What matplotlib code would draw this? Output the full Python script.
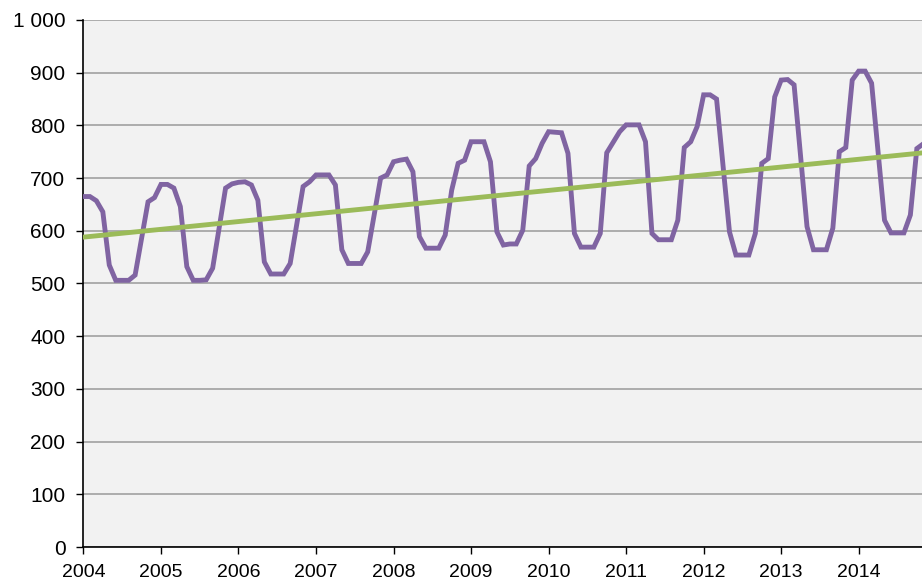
import numpy as np
import matplotlib
matplotlib.use("Agg")
import matplotlib.pyplot as plt
from matplotlib.ticker import FuncFormatter

# monthly values, Jan 2004 .. Nov 2014
v2004 = [665, 665, 657, 636, 535, 506, 506, 506, 516, 585, 655, 663]
v2005 = [688, 688, 681, 646, 532, 506, 506, 507, 529, 605, 681, 689]
v2006 = [692, 693, 687, 658, 541, 518, 518, 518, 538, 611, 684, 693]
v2007 = [706, 706, 706, 687, 564, 538, 538, 538, 560, 630, 700, 706]
v2008 = [731, 734, 736, 712, 589, 567, 567, 567, 592, 677, 728, 734]
v2009 = [769, 769, 769, 731, 598, 573, 575, 575, 601, 723, 737, 766]
v2010 = [788, 787, 786, 747, 595, 569, 569, 569, 595, 748, 768, 788]
v2011 = [801, 801, 801, 769, 595, 583, 583, 583, 620, 758, 769, 798]
v2012 = [858, 858, 850, 724, 598, 554, 554, 554, 595, 728, 737, 854]
v2013 = [886, 887, 877, 742, 608, 564, 564, 564, 605, 750, 758, 886]
v2014 = [903, 903, 880, 750, 620, 596, 596, 596, 630, 756, 765]

years = [2004, 2005, 2006, 2007, 2008, 2009, 2010, 2011, 2012, 2013, 2014]

# trend line ends (first and last month)
trend_ends = [588, 748]

values = np.array(v2004 + v2005 + v2006 + v2007 + v2008 + v2009
                  + v2010 + v2011 + v2012 + v2013 + v2014, dtype=float)
months = np.arange(len(values))

plt.rcParams['font.family'] = ['Liberation Sans', 'DejaVu Sans']

fig = plt.figure(figsize=(9.22, 5.81), dpi=100)
ax = fig.add_axes([0.0905, 0.0585, 0.9095, 0.9071])
ax.set_facecolor('#F2F2F2')

ax.plot(months, values, color='#8064A2', linewidth=3.5, solid_joinstyle='miter', zorder=3)
ax.plot([months[0], months[-1]], trend_ends, color='#9BBB59', linewidth=3.5, zorder=4)

ax.set_ylim(0, 1000)
ax.set_xlim(0, 129.8)
ax.set_yticks(np.arange(0, 1001, 100))
ax.yaxis.set_major_formatter(FuncFormatter(lambda v, p: '{:,}'.format(int(v)).replace(',', ' ')))
ax.set_xticks([12 * i for i in range(len(years))])
ax.set_xticklabels([str(y) for y in years])

ax.grid(axis='y', color='#9A9A9A', linewidth=1.1, zorder=1)
ax.set_axisbelow(True)
for s in ['top', 'right']:
    ax.spines[s].set_visible(False)
ax.spines['left'].set_linewidth(1.2)
ax.spines['bottom'].set_linewidth(1.2)
ax.tick_params(axis='both', direction='out', length=5, width=1, colors='black')
ax.tick_params(axis='y', pad=8, labelsize=15)
ax.tick_params(axis='x', pad=7, labelsize=14)

fig.savefig('out.png', dpi=100)
